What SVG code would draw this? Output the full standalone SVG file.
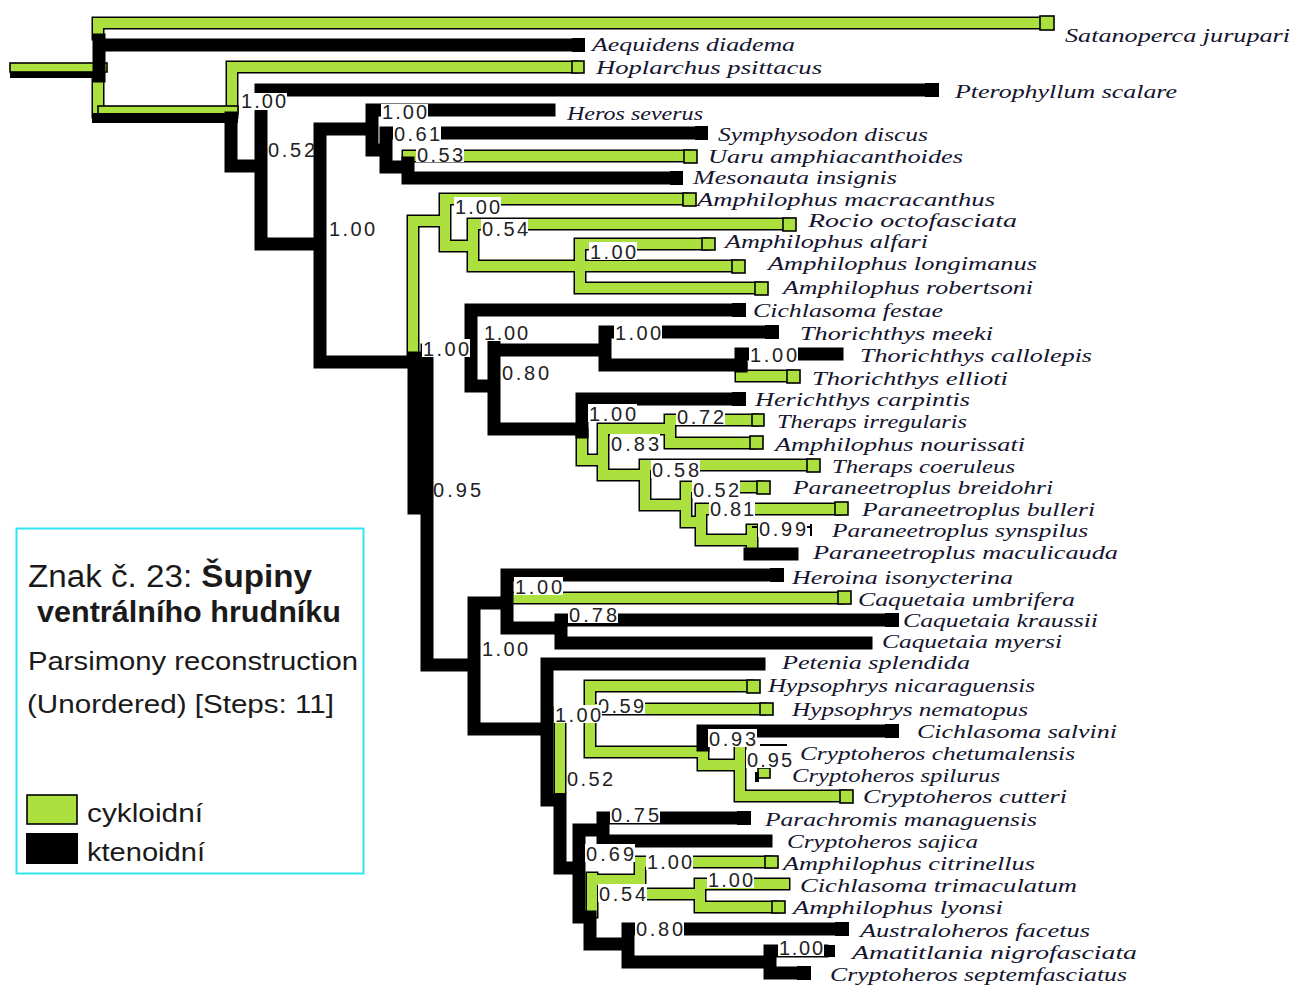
<svg xmlns="http://www.w3.org/2000/svg" xmlns:xlink="http://www.w3.org/1999/xlink" width="1296" height="989" viewBox="0 0 1296 989">
<style>
.go{fill:none;stroke:#000;stroke-width:13;stroke-linecap:square}
.gf{fill:none;stroke:#abe03f;stroke-width:10;stroke-linecap:square}
.k{fill:none;stroke:#000;stroke-width:13;stroke-linecap:square}
.gb{fill:#abe03f;stroke:#000;stroke-width:1.6}
.kb{fill:#000}
.lb{fill:#fff}
.tx{font-family:"Liberation Serif",serif;font-style:italic;font-size:19px;fill:#14142e}
.sv{font-family:"Liberation Sans",Arial,sans-serif;font-size:20px;fill:#222}
.lg{font-family:"Liberation Sans",Arial,sans-serif;fill:#1a1a1a}
</style>
<defs>
<path id="gp" d="M98 23H1040 M98 23V34 M98 82V112 M232 67H572 M232 67V112 M408 156H684 M413 221V356 M413 221H445 M445 199V246 M445 199H683 M445 246H473 M473 224V266 M473 224H783 M473 266H580 M580 244V288 M580 244H702 M580 266H732 M580 288H755 M741 376H787 M741 368V376 M582 434V460 M582 460H603 M603 429V475 M603 429H670 M670 420V443 M670 420H752 M670 443H750 M603 475H645 M645 465V505 M645 465H807 M645 505H686 M686 487V522 M686 487H757 M686 522H701 M701 509V540 M701 509H835 M701 540H752 M752 530V545 M510 598H838 M590 686V752 M590 686H747 M590 709H760 M560 713V788 M560 713H590 M590 752H703 M703 752V765 M703 765H740 M740 752V796 M740 796H840 M592 878V912 M592 880H640 M640 862V894 M640 862H765 M640 894H700 M700 884V907 M700 884H784 M700 907H772"/>
</defs>
<rect width="1296" height="989" fill="#fff"/>
<g id="connectors">
<rect x="10" y="63" width="97" height="9" class="gb"/>
<use xlink:href="#gp" href="#gp" class="go"/>
<use xlink:href="#gp" href="#gp" class="gf"/>
<rect x="98" y="106" width="140" height="8" class="gb"/>
<rect x="10" y="72" width="90" height="6" class="kb"/>
<rect x="92" y="113" width="146" height="10" class="kb"/>
<path class="k" d="M99 45H572 M99 40V76 M231 118V166 M231 166H261 M261 90V244 M261 90H925 M261 244H320 M320 129V362 M320 129H372 M372 110V150 M372 110H549 M372 150H386 M386 133V167 M386 133H695 M386 167H408 M408 163V178 M408 178H670 M320 362H420 M414 358V508 M427 358V665 M427 350H471 M471 310V386 M471 310H732 M471 386H494 M494 347V429 M494 350H605 M605 332V365 M605 332H765 M605 365H741 M741 354V366 M741 354H837 M494 429H582 M582 399V432 M582 399H732 M750 554H792 M427 665H474 M474 603V729 M474 603H507 M507 575V628 M507 575H770 M507 628H561 M561 620V643 M561 620H885 M561 643H866 M474 729H547 M547 664V800 M547 664H759 M560 800V868 M560 868H579 M579 830V917 M579 830H603 M603 818V841 M603 818H737 M603 841H766 M590 917V944 M590 944H628 M628 929V962 M628 929H835 M628 962H770 M770 951V973 M770 951H822 M770 973H797 M703 731H885 M703 731V745"/>
<path d="M752 527H810 M811 524V536" fill="none" stroke="#000" stroke-width="2"/>
<path d="M760 745H787" fill="none" stroke="#000" stroke-width="2"/>
</g>
<g id="t-satanoperca"><rect x="1040" y="16" width="14" height="14" class="gb"/><text class="tx" x="1065" y="42" textLength="225" lengthAdjust="spacingAndGlyphs">Satanoperca jurupari</text></g>
<g id="t-aequidens"><rect x="572" y="38" width="13" height="14" class="kb"/><text class="tx" x="592" y="51" textLength="203" lengthAdjust="spacingAndGlyphs">Aequidens diadema</text></g>
<g id="t-hoplarchus"><rect x="572" y="61" width="12" height="12" class="gb"/><text class="tx" x="596" y="74" textLength="226" lengthAdjust="spacingAndGlyphs">Hoplarchus psittacus</text></g>
<g id="t-pterophyllum"><rect x="925" y="83" width="14" height="14" class="kb"/><text class="tx" x="955" y="98" textLength="222" lengthAdjust="spacingAndGlyphs">Pterophyllum scalare</text></g>
<g id="t-heros"><text class="tx" x="567" y="120" textLength="136" lengthAdjust="spacingAndGlyphs">Heros severus</text></g>
<g id="t-symphysodon"><rect x="695" y="126" width="13" height="14" class="kb"/><text class="tx" x="718" y="141" textLength="210" lengthAdjust="spacingAndGlyphs">Symphysodon discus</text></g>
<g id="t-uaru"><rect x="684" y="150" width="13" height="13" class="gb"/><text class="tx" x="708" y="163" textLength="255" lengthAdjust="spacingAndGlyphs">Uaru amphiacanthoides</text></g>
<g id="t-mesonauta"><rect x="670" y="171" width="13" height="14" class="kb"/><text class="tx" x="693" y="184" textLength="204" lengthAdjust="spacingAndGlyphs">Mesonauta insignis</text></g>
<g id="t-amacracanthus"><rect x="683" y="193" width="13" height="13" class="gb"/><text class="tx" x="697" y="206" textLength="298" lengthAdjust="spacingAndGlyphs">Amphilophus macracanthus</text></g>
<g id="t-rocio"><rect x="783" y="218" width="13" height="13" class="gb"/><text class="tx" x="808" y="227" textLength="209" lengthAdjust="spacingAndGlyphs">Rocio octofasciata</text></g>
<g id="t-aalfari"><rect x="702" y="238" width="13" height="12" class="gb"/><text class="tx" x="725" y="248" textLength="203" lengthAdjust="spacingAndGlyphs">Amphilophus alfari</text></g>
<g id="t-alongimanus"><rect x="732" y="260" width="13" height="13" class="gb"/><text class="tx" x="768" y="270" textLength="269" lengthAdjust="spacingAndGlyphs">Amphilophus longimanus</text></g>
<g id="t-arobertsoni"><rect x="755" y="282" width="13" height="13" class="gb"/><text class="tx" x="783" y="294" textLength="250" lengthAdjust="spacingAndGlyphs">Amphilophus robertsoni</text></g>
<g id="t-cfestae"><rect x="732" y="303" width="14" height="14" class="kb"/><text class="tx" x="753" y="317" textLength="190" lengthAdjust="spacingAndGlyphs">Cichlasoma festae</text></g>
<g id="t-tmeeki"><rect x="765" y="325" width="14" height="14" class="kb"/><text class="tx" x="800" y="340" textLength="193" lengthAdjust="spacingAndGlyphs">Thorichthys meeki</text></g>
<g id="t-tcallolepis"><text class="tx" x="860" y="362" textLength="232" lengthAdjust="spacingAndGlyphs">Thorichthys callolepis</text></g>
<g id="t-tellioti"><rect x="787" y="370" width="13" height="13" class="gb"/><text class="tx" x="812" y="385" textLength="196" lengthAdjust="spacingAndGlyphs">Thorichthys ellioti</text></g>
<g id="t-herichthys"><rect x="732" y="392" width="14" height="14" class="kb"/><text class="tx" x="755" y="406" textLength="215" lengthAdjust="spacingAndGlyphs">Herichthys carpintis</text></g>
<g id="t-tirregularis"><rect x="752" y="414" width="12" height="12" class="gb"/><text class="tx" x="777" y="428" textLength="190" lengthAdjust="spacingAndGlyphs">Theraps irregularis</text></g>
<g id="t-anourissati"><rect x="750" y="436" width="13" height="13" class="gb"/><text class="tx" x="775" y="451" textLength="250" lengthAdjust="spacingAndGlyphs">Amphilophus nourissati</text></g>
<g id="t-tcoeruleus"><rect x="807" y="459" width="13" height="13" class="gb"/><text class="tx" x="832" y="473" textLength="183" lengthAdjust="spacingAndGlyphs">Theraps coeruleus</text></g>
<g id="t-pbreidohri"><rect x="757" y="481" width="13" height="13" class="gb"/><text class="tx" x="793" y="494" textLength="260" lengthAdjust="spacingAndGlyphs">Paraneetroplus breidohri</text></g>
<g id="t-pbulleri"><rect x="835" y="502" width="13" height="13" class="gb"/><text class="tx" x="862" y="516" textLength="233" lengthAdjust="spacingAndGlyphs">Paraneetroplus bulleri</text></g>
<g id="t-psynspilus"><text class="tx" x="832" y="537" textLength="256" lengthAdjust="spacingAndGlyphs">Paraneetroplus synspilus</text></g>
<g id="t-pmaculicauda"><text class="tx" x="813" y="559" textLength="305" lengthAdjust="spacingAndGlyphs">Paraneetroplus maculicauda</text></g>
<g id="t-heroina"><rect x="770" y="568" width="14" height="14" class="kb"/><text class="tx" x="792" y="584" textLength="221" lengthAdjust="spacingAndGlyphs">Heroina isonycterina</text></g>
<g id="t-cumbrifera"><rect x="838" y="591" width="13" height="13" class="gb"/><text class="tx" x="858" y="606" textLength="217" lengthAdjust="spacingAndGlyphs">Caquetaia umbrifera</text></g>
<g id="t-ckraussii"><rect x="885" y="613" width="14" height="14" class="kb"/><text class="tx" x="903" y="627" textLength="195" lengthAdjust="spacingAndGlyphs">Caquetaia kraussii</text></g>
<g id="t-cmyersi"><text class="tx" x="882" y="648" textLength="180" lengthAdjust="spacingAndGlyphs">Caquetaia myersi</text></g>
<g id="t-petenia"><text class="tx" x="782" y="669" textLength="188" lengthAdjust="spacingAndGlyphs">Petenia splendida</text></g>
<g id="t-hnicaraguensis"><rect x="747" y="680" width="13" height="13" class="gb"/><text class="tx" x="768" y="692" textLength="267" lengthAdjust="spacingAndGlyphs">Hypsophrys nicaraguensis</text></g>
<g id="t-hnematopus"><rect x="760" y="703" width="13" height="12" class="gb"/><text class="tx" x="792" y="716" textLength="236" lengthAdjust="spacingAndGlyphs">Hypsophrys nematopus</text></g>
<g id="t-csalvini"><rect x="885" y="724" width="14" height="14" class="kb"/><text class="tx" x="917" y="738" textLength="200" lengthAdjust="spacingAndGlyphs">Cichlasoma salvini</text></g>
<g id="t-cchetumalensis"><text class="tx" x="800" y="760" textLength="275" lengthAdjust="spacingAndGlyphs">Cryptoheros chetumalensis</text></g>
<g id="t-cspilurus"><rect x="758" y="768" width="12" height="10" class="gb"/><rect x="755" y="772" width="4" height="10" class="kb"/><text class="tx" x="792" y="782" textLength="208" lengthAdjust="spacingAndGlyphs">Cryptoheros spilurus</text></g>
<g id="t-ccutteri"><rect x="840" y="790" width="13" height="13" class="gb"/><text class="tx" x="863" y="803" textLength="204" lengthAdjust="spacingAndGlyphs">Cryptoheros cutteri</text></g>
<g id="t-parachromis"><rect x="737" y="811" width="14" height="14" class="kb"/><text class="tx" x="765" y="826" textLength="272" lengthAdjust="spacingAndGlyphs">Parachromis managuensis</text></g>
<g id="t-csajica"><text class="tx" x="787" y="848" textLength="191" lengthAdjust="spacingAndGlyphs">Cryptoheros sajica</text></g>
<g id="t-acitrinellus"><rect x="765" y="856" width="13" height="12" class="gb"/><text class="tx" x="783" y="870" textLength="252" lengthAdjust="spacingAndGlyphs">Amphilophus citrinellus</text></g>
<g id="t-ctrimaculatum"><text class="tx" x="800" y="892" textLength="277" lengthAdjust="spacingAndGlyphs">Cichlasoma trimaculatum</text></g>
<g id="t-alyonsi"><rect x="772" y="901" width="13" height="12" class="gb"/><text class="tx" x="793" y="914" textLength="210" lengthAdjust="spacingAndGlyphs">Amphilophus lyonsi</text></g>
<g id="t-australoheros"><rect x="835" y="922" width="14" height="14" class="kb"/><text class="tx" x="860" y="937" textLength="230" lengthAdjust="spacingAndGlyphs">Australoheros facetus</text></g>
<g id="t-amatitlania"><rect x="824" y="945" width="11" height="12" class="kb"/><text class="tx" x="852" y="959" textLength="285" lengthAdjust="spacingAndGlyphs">Amatitlania nigrofasciata</text></g>
<g id="t-cseptemfasciatus"><rect x="797" y="966" width="14" height="14" class="kb"/><text class="tx" x="830" y="981" textLength="297" lengthAdjust="spacingAndGlyphs">Cryptoheros septemfasciatus</text></g>
<g id="supports">
<g id="n01"><rect class="lb" x="240" y="93" width="47" height="17"/><text class="sv" x="241" y="108" textLength="45">1.00</text></g>
<g id="n02"><text class="sv" x="268" y="157" textLength="47">0.52</text></g>
<g id="n03"><text class="sv" x="329" y="236" textLength="46">1.00</text></g>
<g id="n04"><rect class="lb" x="381" y="104" width="47" height="17"/><text class="sv" x="382" y="119" font-size="19" textLength="45">1.00</text></g>
<g id="n05"><rect class="lb" x="393" y="125" width="48" height="17"/><text class="sv" x="394" y="141" font-size="19" textLength="46">0.61</text></g>
<g id="n06"><rect class="lb" x="416" y="146" width="48" height="16"/><text class="sv" x="417" y="162" font-size="19" textLength="46">0.53</text></g>
<g id="n07"><rect class="lb" x="454" y="197" width="47" height="18"/><text class="sv" x="455" y="214" textLength="45">1.00</text></g>
<g id="n08"><rect class="lb" x="481" y="219" width="47" height="18"/><text class="sv" x="482" y="236" textLength="46">0.54</text></g>
<g id="n09"><rect class="lb" x="589" y="242" width="48" height="18"/><text class="sv" x="590" y="259" textLength="46">1.00</text></g>
<g id="n10"><rect class="lb" x="422" y="339" width="48" height="18"/><text class="sv" x="423" y="356" textLength="46">1.00</text></g>
<g id="n11"><rect class="lb" x="483" y="323" width="46" height="18"/><text class="sv" x="484" y="340" textLength="44">1.00</text></g>
<g id="n12"><text class="sv" x="502" y="380" textLength="47">0.80</text></g>
<g id="n13"><rect class="lb" x="614" y="323" width="48" height="18"/><text class="sv" x="615" y="340" textLength="46">1.00</text></g>
<g id="n14"><rect class="lb" x="749" y="345" width="49" height="18"/><text class="sv" x="750" y="362" textLength="47">1.00</text></g>
<g id="n15"><rect class="lb" x="588" y="404" width="49" height="18"/><text class="sv" x="589" y="421" textLength="47">1.00</text></g>
<g id="n16"><rect class="lb" x="676" y="407" width="49" height="18"/><text class="sv" x="677" y="424" textLength="47">0.72</text></g>
<g id="n17"><rect class="lb" x="610" y="434" width="50" height="18"/><text class="sv" x="611" y="451" textLength="48">0.83</text></g>
<g id="n18"><rect class="lb" x="651" y="460" width="49" height="18"/><text class="sv" x="652" y="477" textLength="47">0.58</text></g>
<g id="n19"><rect class="lb" x="692" y="480" width="48" height="18"/><text class="sv" x="693" y="497" textLength="46">0.52</text></g>
<g id="n20"><rect class="lb" x="709" y="499" width="46" height="18"/><text class="sv" x="710" y="516" textLength="44">0.81</text></g>
<g id="n21"><rect class="lb" x="758" y="519" width="49" height="18"/><text class="sv" x="759" y="536" textLength="47">0.99</text></g>
<g id="n22"><text class="sv" x="433" y="497" textLength="48">0.95</text></g>
<g id="n23"><rect class="lb" x="514" y="577" width="49" height="18"/><text class="sv" x="515" y="594" textLength="47">1.00</text></g>
<g id="n24"><rect class="lb" x="568" y="605" width="50" height="18"/><text class="sv" x="569" y="622" textLength="48">0.78</text></g>
<g id="n25"><text class="sv" x="482" y="656" textLength="46">1.00</text></g>
<g id="n26"><rect class="lb" x="597" y="696" width="48" height="18"/><text class="sv" x="598" y="713" textLength="46">0.59</text></g>
<g id="n27"><rect class="lb" x="554" y="705" width="48" height="18"/><text class="sv" x="555" y="722" textLength="46">1.00</text></g>
<g id="n28"><rect class="lb" x="708" y="729" width="49" height="18"/><text class="sv" x="709" y="746" textLength="47">0.93</text></g>
<g id="n29"><rect class="lb" x="746" y="750" width="47" height="18"/><text class="sv" x="747" y="767" textLength="45">0.95</text></g>
<g id="n30"><text class="sv" x="567" y="786" textLength="46">0.52</text></g>
<g id="n31"><rect class="lb" x="610" y="805" width="50" height="18"/><text class="sv" x="611" y="822" textLength="48">0.75</text></g>
<g id="n32"><rect class="lb" x="585" y="844" width="50" height="18"/><text class="sv" x="586" y="861" textLength="48">0.69</text></g>
<g id="n33"><rect class="lb" x="646" y="852" width="47" height="18"/><text class="sv" x="647" y="869" textLength="45">1.00</text></g>
<g id="n34"><rect class="lb" x="598" y="884" width="49" height="18"/><text class="sv" x="599" y="901" textLength="47">0.54</text></g>
<g id="n35"><rect class="lb" x="707" y="870" width="47" height="18"/><text class="sv" x="708" y="887" textLength="45">1.00</text></g>
<g id="n36"><rect class="lb" x="635" y="919" width="49" height="18"/><text class="sv" x="636" y="936" textLength="47">0.80</text></g>
<g id="n37"><rect class="lb" x="778" y="938" width="46" height="18"/><text class="sv" x="779" y="955" textLength="44">1.00</text></g>
</g>
<g id="legend">
<rect x="16.5" y="528.5" width="347" height="345" fill="#fff" stroke="#2ee6ee" stroke-width="2"/>
<text class="lg" x="28" y="587" font-size="31" textLength="284" lengthAdjust="spacingAndGlyphs">Znak č. 23: <tspan font-weight="bold">Šupiny</tspan></text>
<text class="lg" x="37" y="622" font-size="29" font-weight="bold" textLength="304" lengthAdjust="spacingAndGlyphs">ventrálního hrudníku</text>
<text class="lg" x="28" y="670" font-size="25" textLength="330" lengthAdjust="spacingAndGlyphs">Parsimony reconstruction</text>
<text class="lg" x="27" y="713" font-size="25" textLength="307" lengthAdjust="spacingAndGlyphs">(Unordered) [Steps: 11]</text>
<rect x="27" y="795" width="50" height="29" class="gb" stroke-width="2"/>
<text class="lg" x="87" y="822" font-size="25" textLength="116" lengthAdjust="spacingAndGlyphs">cykloidní</text>
<rect x="26" y="833" width="52" height="31" fill="#000"/>
<text class="lg" x="87" y="861" font-size="25" textLength="118" lengthAdjust="spacingAndGlyphs">ktenoidní</text>
</g>
</svg>
